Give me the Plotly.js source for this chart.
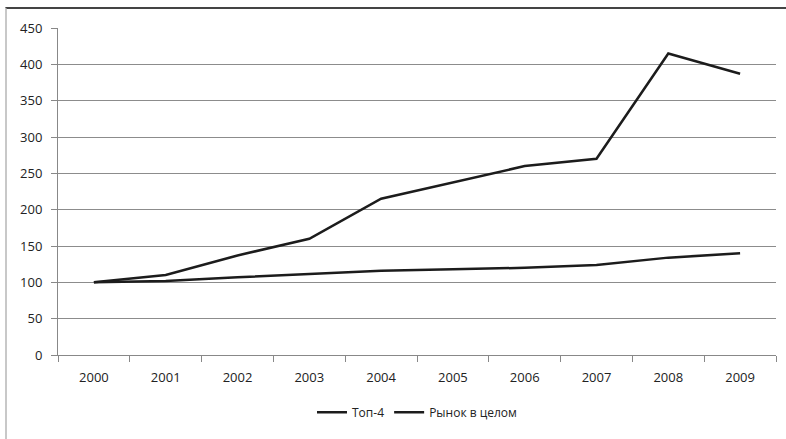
<!DOCTYPE html>
<html>
<head>
<meta charset="utf-8">
<script src="https://cdn.plot.ly/plotly-3.0.1.min.js"></script>
<style>
html,body{margin:0;padding:0;background:#fff;}
#wrap{position:absolute;left:0;top:0;width:786px;height:439px;}
#frame{position:absolute;left:5px;top:7px;width:790px;height:440px;border-left:2px solid #c8c8c8;border-top:2px solid #444;pointer-events:none;}
#chart{position:absolute;left:0;top:0;width:786px;height:439px;}
</style>
</head>
<body>
<div id="wrap">
<div id="chart"></div>
<div id="frame"></div>
</div>
<script>
const years = ["2000","2001","2002","2003","2004","2005","2006","2007","2008","2009"];
const top4 = [100, 110, 137, 160, 215, 237, 260, 270, 415, 387];
const market = [100, 102, 107, 112, 116, 118, 120, 124, 134, 140];
const seriesNames = ["Топ-4", "Рынок в целом"];

const lineStyle = {color: "#1c1c1c", width: 2.5};
const data = [
  {x: years, y: top4, name: seriesNames[0], type: "scatter", mode: "lines", line: lineStyle},
  {x: years, y: market, name: seriesNames[1], type: "scatter", mode: "lines", line: lineStyle}
];

const layout = {
  width: 786, height: 439,
  margin: {l: 58, r: 10, t: 28, b: 84},
  paper_bgcolor: "#fff", plot_bgcolor: "#fff",
  font: {family: "Open Sans, DejaVu Sans, sans-serif", size: 13, color: "#222"},
  showlegend: true,
  legend: {orientation: "h", x: 0.5, xanchor: "center", y: -0.175, yanchor: "middle",
           font: {size: 12, color: "#222"}, itemwidth: 30, tracegroupgap: 0},
  xaxis: {
    type: "category", range: [-0.5, 9.5], tickson: "boundaries",
    ticks: "outside", ticklen: 6, tickcolor: "#888",
    showline: true, linecolor: "#888", linewidth: 1,
    showgrid: false, zeroline: false, fixedrange: true,
    ticklabelstandoff: 10,
    tickfont: {size: 13, color: "#222"}
  },
  yaxis: {
    range: [0, 450], dtick: 50, tick0: 0,
    ticks: "outside", ticklen: 6, tickcolor: "#888",
    showline: true, linecolor: "#888", linewidth: 1,
    showgrid: true, gridcolor: "#8c8c8c", gridwidth: 1,
    zeroline: false, fixedrange: true,
    ticklabelstandoff: 6,
    tickfont: {size: 13, color: "#222"}
  }
};

Plotly.newPlot("chart", data, layout, {displayModeBar: false, staticPlot: true});
</script>
</body>
</html>
